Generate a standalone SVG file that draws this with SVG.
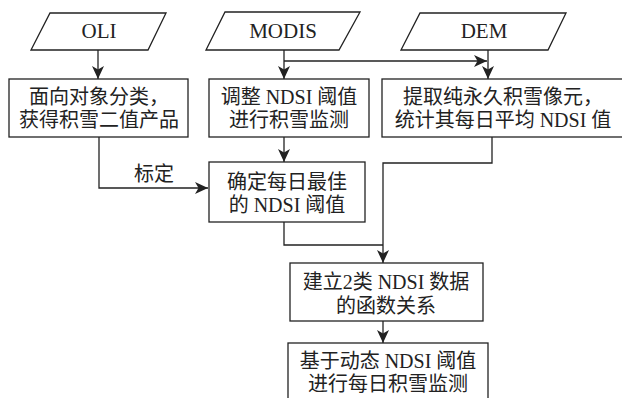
<svg xmlns="http://www.w3.org/2000/svg" width="622" height="398" viewBox="0 0 622 398">
<defs>
<style>
.s{fill:#fff;stroke:#222;stroke-width:1.3}
.c{fill:none;stroke:#222;stroke-width:1.3}
text{font-family:"Liberation Serif","Noto Sans CJK SC",serif;font-size:20px;fill:#222;text-anchor:middle}
.io{font-size:21px}
</style>
<marker id="a" markerUnits="userSpaceOnUse" markerWidth="14" markerHeight="12" refX="13" refY="6" orient="auto">
<path d="M0,0 L13,6 L0,12 L3.5,6 z" fill="#222"/>
</marker>
</defs>
<rect width="622" height="398" fill="#fff"/>
<g id="connectors">
<path class="c" d="M98,50 V79" marker-end="url(#a)"/>
<path class="c" d="M284,50 V79" marker-end="url(#a)"/>
<path class="c" d="M284,61 H487" marker-end="url(#a)"/>
<path class="c" d="M488,50 V79" marker-end="url(#a)"/>
<path class="c" d="M99,137 V188 H208" marker-end="url(#a)"/>
<path class="c" d="M284,137 V162" marker-end="url(#a)"/>
<path class="c" d="M492,137 V163 H383 V263" marker-end="url(#a)"/>
<path class="c" d="M284,222 V245 H383"/>
<path class="c" d="M383,321 V343" marker-end="url(#a)"/>
<text x="154" y="181">标定</text>
</g>
<g id="oli">
<polygon class="s" points="50,13 166,13 148,50 31,50"/>
<text class="io" x="99" y="38">OLI</text>
</g>
<g id="modis">
<polygon class="s" points="225,12 360,12 339,50 206,50"/>
<text class="io" x="283" y="38">MODIS</text>
</g>
<g id="dem">
<polygon class="s" points="420,13 566,13 548,50 401,50"/>
<text class="io" x="484" y="38">DEM</text>
</g>
<g id="obj">
<rect class="s" x="9" y="79" width="179" height="58"/>
<text x="99" y="104">面向对象分类，</text>
<text x="99" y="127">获得积雪二值产品</text>
</g>
<g id="adjust">
<rect class="s" x="209" y="79" width="160" height="58"/>
<text x="289" y="104">调整 NDSI 阈值</text>
<text x="289" y="127">进行积雪监测</text>
</g>
<g id="extract">
<rect class="s" x="382" y="79" width="242" height="58"/>
<text x="503" y="104">提取纯永久积雪像元，</text>
<text x="503" y="127">统计其每日平均 NDSI 值</text>
</g>
<g id="best">
<rect class="s" x="209" y="162" width="156" height="60"/>
<text x="287" y="189">确定每日最佳</text>
<text x="287" y="212">的 NDSI 阈值</text>
</g>
<g id="relation">
<rect class="s" x="290" y="263" width="193" height="58"/>
<text x="386" y="289">建立2类 NDSI 数据</text>
<text x="386" y="313">的函数关系</text>
</g>
<g id="dynamic">
<rect class="s" x="288" y="343" width="200" height="60"/>
<text x="388" y="368">基于动态 NDSI 阈值</text>
<text x="388" y="391">进行每日积雪监测</text>
</g>
</svg>
